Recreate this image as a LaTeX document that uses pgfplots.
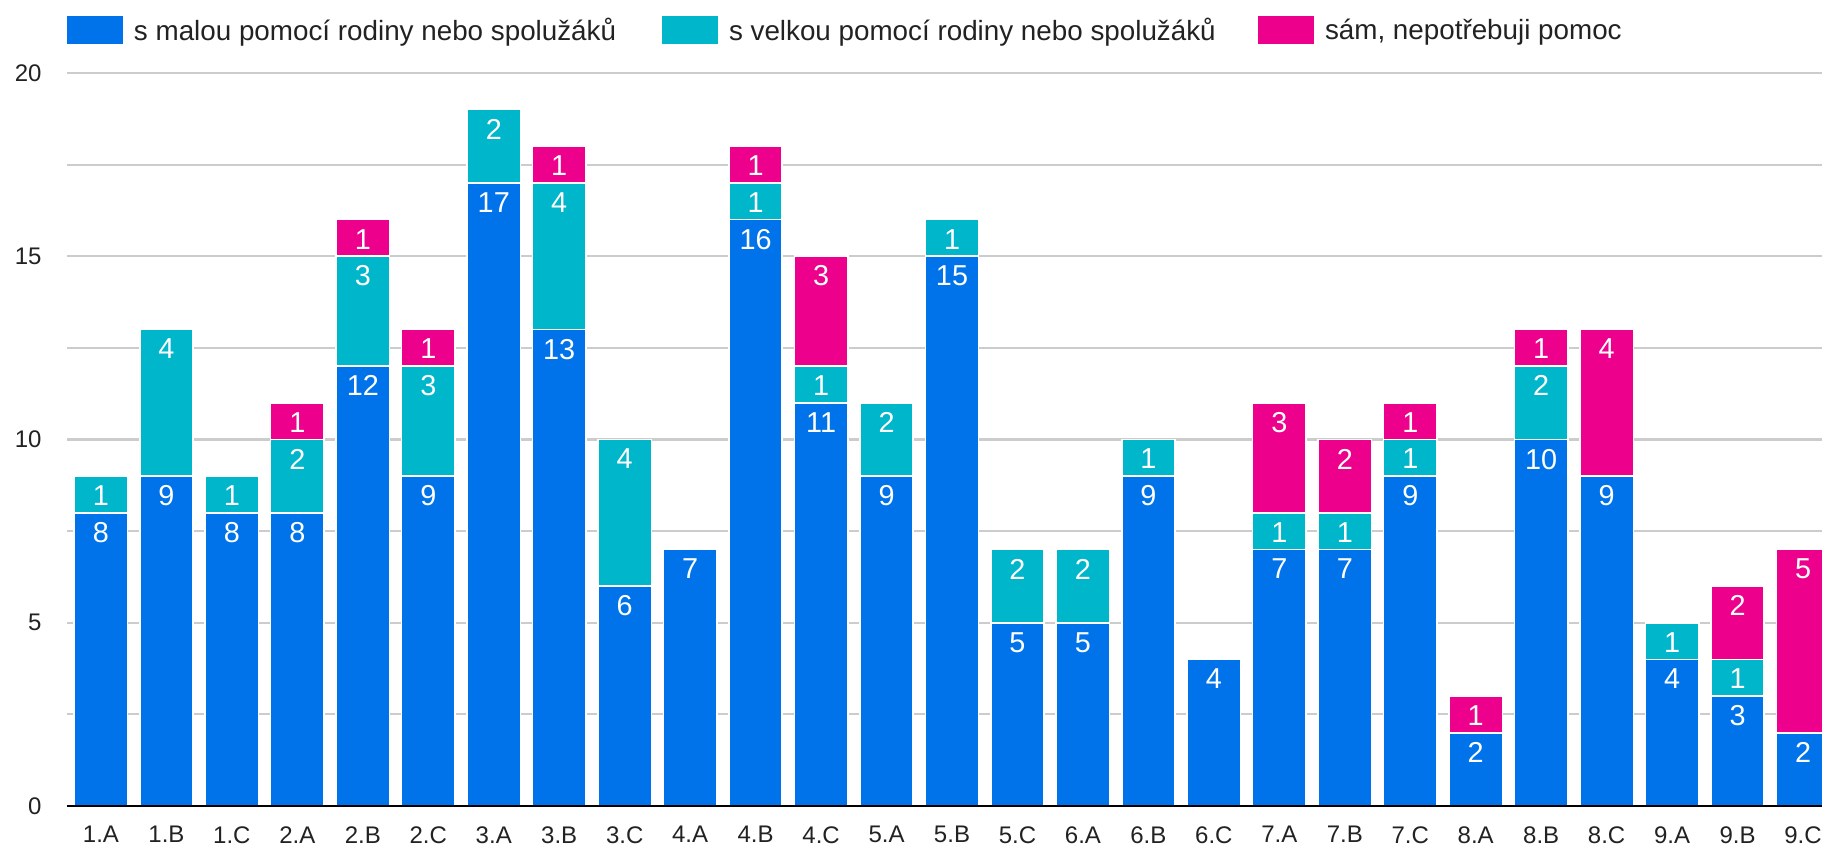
\documentclass[border=0pt]{standalone}
\usepackage{pgfplots}
\pgfplotsset{compat=1.18}
\usepackage{pgfplotstable}
\usepackage{fontspec}
\setmainfont{Liberation Sans}
\definecolor{cblue}{HTML}{0073EA}
\definecolor{cteal}{HTML}{00B6CB}
\definecolor{cpink}{HTML}{EC008C}
\definecolor{cgrid}{HTML}{CCCCCC}
\definecolor{ctext}{HTML}{222222}
\pgfplotstableread{
x a b c
0 8 1 0
1 9 4 0
2 8 1 0
3 8 2 1
4 12 3 1
5 9 3 1
6 17 2 0
7 13 4 1
8 6 4 0
9 7 0 0
10 16 1 1
11 11 1 3
12 9 2 0
13 15 1 0
14 5 2 0
15 5 2 0
16 9 1 0
17 4 0 0
18 7 1 3
19 7 1 2
20 9 1 1
21 2 0 1
22 10 2 1
23 9 0 4
24 4 1 0
25 3 1 2
26 2 0 5
}\data
\begin{document}
\begin{tikzpicture}
\begin{axis}[
  scale only axis, width=877.5pt, height=366.5pt,
  xmin=-0.519, xmax=26.29, ymin=0, ymax=20,
  ybar stacked, bar width=0.815,
  axis x line*=bottom, axis y line*=left,
  x axis line style={draw=none},
  y axis line style={draw=none},
  ytick={0,5,10,15,20}, minor ytick={2.5,7.5,12.5,17.5},
  ymajorgrids, yminorgrids,
  major grid style={cgrid, line width=1.1pt},
  minor grid style={cgrid, line width=1.1pt},
  major tick length=0pt, minor tick length=0pt,
  xtick={0,...,26},
  xticklabels={1.A,1.B,1.C,2.A,2.B,2.C,3.A,3.B,3.C,4.A,4.B,4.C,5.A,5.B,5.C,6.A,6.B,6.C,7.A,7.B,7.C,8.A,8.B,8.C,9.A,9.B,9.C},
  /pgf/number format/assume math mode=true,
  xticklabel style={anchor=north, inner sep=0pt, yshift=-10pt, font=\fontsize{12}{14}\selectfont, text=ctext},
  yticklabel style={anchor=east, inner sep=0pt, xshift=-12.5pt, font=\fontsize{12}{14}\selectfont, text=ctext},
  point meta=explicit symbolic,
  nodes near coords={\ifnum\pgfplotspointmeta>0 \pgfplotspointmeta\fi},
  nodes near coords align={anchor=north},
  every node near coord/.append style={anchor=north, inner sep=0pt,
    yshift={\pgfplotspointmeta*9.1625pt-4.4pt}, text=white, font=\fontsize{14.4}{16}\selectfont},
  clip mode=individual,
  legend columns=3,
  legend style={at={(0,1)}, anchor=west, yshift=21.5pt, draw=none, fill=none, inner sep=0pt, outer sep=0pt,
    font=\fontsize{13.9}{16}\selectfont, text=ctext,
    /tikz/every odd column/.append style={column sep=5.5pt},
    /tikz/every even column/.append style={column sep=24pt},
    nodes={inner sep=0pt}},
  legend image code/.code={\fill[#1, draw=none] (0pt,-6.8pt) rectangle (28pt,7.2pt);},
]
\addplot[fill=cblue, draw=white, line width=0.8pt] table[x=x, y=a, meta=a] {\data};
\addlegendentry{\makebox[240pt][l]{s malou pomocí rodiny nebo spolužáků}}
\addplot[fill=cteal, draw=white, line width=0.8pt] table[x=x, y=b, meta=b] {\data};
\addlegendentry{\makebox[240.5pt][l]{s velkou pomocí rodiny nebo spolužáků}}
\addplot[fill=cpink, draw=white, line width=0.8pt] table[x=x, y=c, meta=c] {\data};
\addlegendentry{sám, nepotřebuji pomoc}
\coordinate (bl) at (rel axis cs:0,0);
\coordinate (tr) at (rel axis cs:1,1);
\end{axis}
\draw[black, line width=1.3pt] (bl) -- (bl -| tr);
\pgfresetboundingbox
\path[use as bounding box] ([shift={(-33.5pt,-20pt)}]bl) rectangle ([yshift=36.5pt]tr);
\end{tikzpicture}
\end{document}
